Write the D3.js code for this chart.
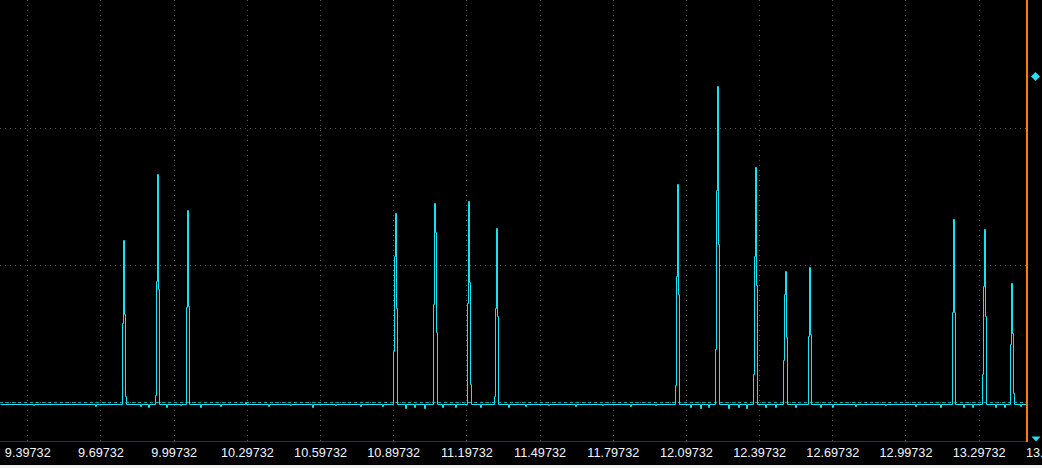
<!DOCTYPE html>
<html>
<head>
<meta charset="utf-8">
<script src="https://cdn.jsdelivr.net/npm/d3@7"></script>
<style>
  html, body { margin: 0; padding: 0; background: #000; }
  svg { display: block; }
</style>
</head>
<body>
<script>
// time axis labels (s)
const tickLabels = ["9.39732", "9.69732", "9.99732", "10.29732", "10.59732", "10.89732", "11.19732",
  "11.49732", "11.79732", "12.09732", "12.39732", "12.69732", "12.99732", "13.29732", "13.59732"];

// sample interval and resting level (divisions)
const dt = 0.0041;
const baseLevel = -0.017;

// start time of each burst, and the sample values that follow (divisions)
const spikeStarts = [9.78553, 9.92081, 10.04789, 10.89646, 11.06044, 11.19982, 11.31050,
  12.05250, 12.21647, 12.37225, 12.49523, 12.59772, 13.18803, 13.31101, 13.42579];
const spikeSamples = [
  [0.579, 1.182, 0.642, 0.044],
  [0.051, 0.883, 1.664, 0.825],
  [0.69, 1.401, 0.70],
  [0.372, 1.066, 1.382, 0.686],
  [0.715, 1.455, 1.241, 0.511],
  [0.725, 1.467, 0.878, 0.131],
  [0.044, 0.686, 1.270, 0.628],
  [0.124, 0.920, 1.591, 0.788],
  [0.387, 1.547, 2.307, 1.153],
  [0.204, 1.066, 1.713, 0.854],
  [0.307, 0.788, 0.956, 0.474],
  [0.482, 0.985, 0.496],
  [0.659, 1.336, 0.659],
  [0.204, 0.847, 1.263, 0.628],
  [0.423, 0.869, 0.501, 0.068]
];

// small baseline wiggles
const noiseTimes = [9.421, 9.675, 9.859, 9.892, 9.966, 10.023, 10.105, 10.187, 10.290, 10.384,
  10.474, 10.564, 10.659, 10.761, 10.851, 10.946, 10.983, 11.024, 11.097, 11.151, 11.253,
  11.368, 11.438, 11.532, 11.643, 11.753, 11.868, 11.971, 12.114, 12.155, 12.188, 12.270,
  12.311, 12.344, 12.421, 12.462, 12.544, 12.647, 12.696, 12.790, 12.913, 13.036, 13.139,
  13.233, 13.270, 13.364, 13.401, 13.467];
const noiseVals = [-0.025, -0.03, -0.03, -0.04, -0.035, -0.025, -0.04, -0.03, 0.0, -0.03,
  -0.025, -0.035, -0.02, -0.03, -0.03, -0.045, -0.04, -0.045, -0.04, -0.035, -0.04,
  -0.035, -0.03, -0.025, -0.03, -0.02, -0.03, -0.025, -0.04, -0.045, -0.04, -0.045,
  -0.04, -0.045, -0.035, -0.04, -0.035, -0.04, -0.035, -0.03, -0.025, -0.03, -0.035,
  -0.04, -0.035, -0.04, -0.035, -0.03];

const gridLevels = [0, 1, 2];
const refLevel = 0;       // dashed reference line
const markerLevel = 2.376; // diamond on the right

// layout
const width = 1042, height = 468;
const plotRight = 1026;
const axisY = 441;

const x = d3.scaleLinear().domain([9.2854, 13.4914]).range([0, plotRight]);
const y = d3.scaleLinear().domain([0, 2]).range([402, 128]);

const svg = d3.select("body").append("svg")
  .attr("width", width)
  .attr("height", height);

svg.append("rect")
  .attr("width", width)
  .attr("height", height)
  .attr("fill", "#000");

// grid
const tickVals = tickLabels.map(Number);
svg.append("g")
  .selectAll("line")
  .data(tickVals)
  .join("line")
  .attr("x1", d => Math.round(x(d)) + 0.5)
  .attr("x2", d => Math.round(x(d)) + 0.5)
  .attr("y1", 0)
  .attr("y2", axisY)
  .attr("stroke", "#5a5a5a")
  .attr("stroke-dasharray", "1,4");

svg.append("g")
  .selectAll("line")
  .data(gridLevels)
  .join("line")
  .attr("x1", 0)
  .attr("x2", plotRight)
  .attr("y1", d => Math.round(y(d)) + 0.5)
  .attr("y2", d => Math.round(y(d)) + 0.5)
  .attr("stroke", "#5a5a5a")
  .attr("stroke-dasharray", "1,4");

// reference level
svg.append("line")
  .attr("x1", 0)
  .attr("x2", plotRight)
  .attr("y1", Math.round(y(refLevel)) + 0.5)
  .attr("y2", Math.round(y(refLevel)) + 0.5)
  .attr("stroke", "#16a6ae")
  .attr("stroke-dasharray", "3,3");

// build the trace
let pts = [];
noiseTimes.forEach((t, i) => {
  pts.push([t, noiseVals[i]]);
  pts.push([t + dt, baseLevel]);
});
spikeStarts.forEach((t0, i) => {
  spikeSamples[i].forEach((v, j) => pts.push([t0 + j * dt, v]));
  pts.push([t0 + spikeSamples[i].length * dt, baseLevel]);
});
pts.sort((a, b) => a[0] - b[0]);
pts.unshift([x.domain()[0], baseLevel]);
pts.push([x.domain()[1], baseLevel]);

const line = d3.line()
  .x(d => Math.round(x(d[0])) + 0.5)
  .y(d => Math.round(y(d[1])) + 0.5)
  .curve(d3.curveStepAfter);

svg.append("clipPath")
  .attr("id", "plot")
  .append("rect")
  .attr("width", plotRight)
  .attr("height", axisY);

svg.append("path")
  .datum(pts)
  .attr("clip-path", "url(#plot)")
  .attr("fill", "none")
  .attr("stroke", "#14e4f4")
  .attr("stroke-width", 1)
  .attr("d", line);

// bottom axis line and right cursor
svg.append("line")
  .attr("x1", 0)
  .attr("x2", plotRight)
  .attr("y1", axisY + 0.5)
  .attr("y2", axisY + 0.5)
  .attr("stroke", "#8a0c0c");

svg.append("rect")
  .attr("x", plotRight)
  .attr("y", 0)
  .attr("width", 2)
  .attr("height", axisY + 1)
  .attr("fill", "#ff7d00");

// markers
const my = y(markerLevel);
svg.append("path")
  .attr("d", `M1035.5,${my - 4.5} L1040,${my} L1035.5,${my + 4.5} L1031,${my} Z`)
  .attr("fill", "#22e2f2");

svg.append("path")
  .attr("d", `M1031.5,436.5 L1040.5,436.5 L1036,441.5 Z`)
  .attr("fill", "#22e2f2");

// x axis labels
svg.append("g")
  .attr("transform", `translate(0,${axisY})`)
  .call(d3.axisBottom(x)
    .tickValues(tickVals)
    .tickFormat((d, i) => tickLabels[i])
    .tickSize(0)
    .tickPadding(7))
  .call(g => g.select(".domain").remove())
  .call(g => g.selectAll("text")
    .attr("fill", "#f2f6ff")
    .attr("font-family", "'Liberation Sans', Arial, sans-serif")
    .attr("font-size", "12.7px"));

// window status strip
svg.append("rect")
  .attr("x", 0)
  .attr("y", 465)
  .attr("width", width)
  .attr("height", 3)
  .attr("fill", "#f0f0f0");
</script>
</body>
</html>
